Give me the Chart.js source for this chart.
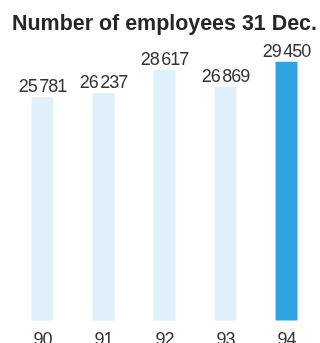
<!DOCTYPE html>
<html>
<head>
<meta charset="utf-8">
<script src="https://cdn.jsdelivr.net/npm/chart.js@4/dist/chart.umd.min.js"></script>
<style>
  html, body { margin: 0; padding: 0; background: #fff; overflow: hidden; }
  #wrap { width: 320px; height: 360px; }
</style>
</head>
<body>
<div id="wrap"><canvas id="c" width="320" height="360"></canvas></div>
<script>
const titleText = 'Number of employees 31 Dec.';
const years = ['90', '91', '92', '93', '94'];
const employees = [25781, 26237, 28617, 26869, 29450];
const highlightIndex = 4;

const paleBlue = '#e0f0fa';
const brightBlue = '#2ea3df';
const textColor = '#333333';

function fmt(v) {
  return String(v).replace(/\B(?=(\d{3})+(?!\d))/g, '\u2009');
}

const valueLabels = {
  id: 'valueLabels',
  beforeDraw(chart) {
    chart.ctx.letterSpacing = '0px';
  },
  afterDatasetsDraw(chart) {
    const ctx = chart.ctx;
    ctx.letterSpacing = '-1px';
    const meta = chart.getDatasetMeta(0);
    ctx.save();
    ctx.font = '18px "Liberation Sans", Arial, sans-serif';
    ctx.fillStyle = textColor;
    ctx.textAlign = 'center';
    ctx.textBaseline = 'alphabetic';
    meta.data.forEach((bar, i) => {
      ctx.fillText(fmt(employees[i]), bar.x, bar.y - 5);
    });
    ctx.restore();
  },
  afterDraw(chart) {
    chart.ctx.letterSpacing = '0px';
  }
};

new Chart(document.getElementById('c'), {
  type: 'bar',
  data: {
    labels: years,
    datasets: [{
      data: employees,
      backgroundColor: employees.map((_, i) => i === highlightIndex ? brightBlue : paleBlue),
      borderWidth: 0,
      barPercentage: 0.36,
      categoryPercentage: 1.0
    }]
  },
  options: {
    responsive: false,
    animation: false,
    layout: { padding: { left: 12, right: 3, top: 0, bottom: 0 } },
    plugins: {
      legend: { display: false },
      tooltip: { enabled: false },
      title: {
        display: true,
        text: titleText,
        color: '#262626',
        font: { family: '"Liberation Sans", Arial, sans-serif', size: 21.6, weight: 'bold' },
        padding: { top: 11, bottom: 8 }
      }
    },
    scales: {
      x: {
        grid: { display: false, drawTicks: false },
        border: { display: false },
        ticks: {
          z: 1,
          color: textColor,
          padding: 9,
          font: { family: '"Liberation Sans", Arial, sans-serif', size: 18 }
        }
      },
      y: {
        display: false,
        min: 2700,
        max: 31200
      }
    }
  },
  plugins: [valueLabels]
});
</script>
</body>
</html>
